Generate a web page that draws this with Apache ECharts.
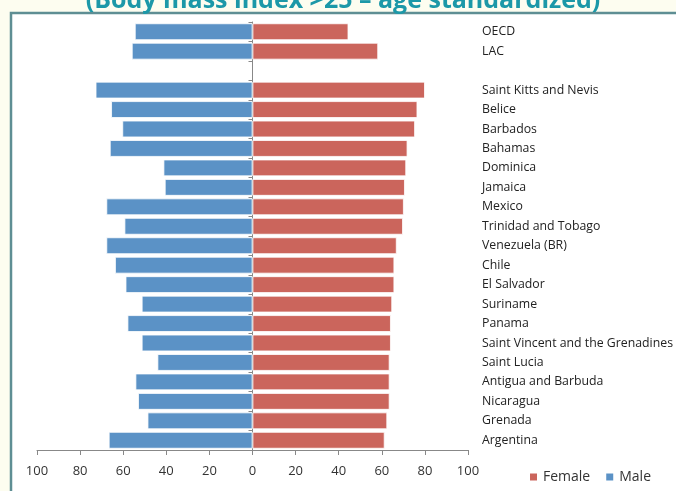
<!DOCTYPE html>
<html><head><meta charset="utf-8">
<script src="https://cdn.jsdelivr.net/npm/echarts@6/dist/echarts.min.js"></script>
<style>html,body{margin:0;padding:0;background:#FDFDF0;}#c{width:676px;height:491px;}</style>
</head><body><div id="c"></div>
<script>
const categories = ["OECD","LAC","","Saint Kitts and Nevis","Belice","Barbados","Bahamas","Dominica","Jamaica","Mexico","Trinidad and Tobago","Venezuela (BR)","Chile","El Salvador","Suriname","Panama","Saint Vincent and the Grenadines","Saint Lucia","Antigua and Barbuda","Nicaragua","Grenada","Argentina"];
const femaleValues = [44.5,58.3,null,80.0,76.5,75.4,71.9,71.3,70.7,70.2,69.8,66.9,65.8,65.8,64.8,64.2,64.2,63.6,63.6,63.6,62.5,61.3];
const maleValues = [54.6,56.0,null,72.8,65.6,60.4,66.2,41.3,40.7,67.8,59.4,67.8,63.8,58.9,51.4,58.0,51.4,44.1,54.3,53.1,48.7,66.7];
const xTicks = [-100,-80,-60,-40,-20,0,20,40,60,80,100];
const titleText = "(Body mass index >25 \u2013 age standardized)";

const chart = echarts.init(document.getElementById('c'));
const FONT = "Open Sans";
chart.setOption({
  backgroundColor: '#FDFDF0',
  animation: false,
  textStyle: {fontFamily: FONT},
  graphic: [
    {type:'rect', z:-10, shape:{x:11, y:13, width:700, height:520}, style:{fill:'#ffffff', stroke:'#5E8E93', lineWidth:2.5}},
    {type:'text', z:10, x:343, y:13, style:{text:titleText, fill:'#1C98A8', font:'bold 25px "Open Sans"', textAlign:'center', textVerticalAlign:'bottom'}}
  ],
  legend: {
    data:['Female','Male'], right: 20, bottom: 2, itemWidth: 9, itemHeight: 9, itemGap: 14,
    icon:'rect', textStyle:{fontSize:14, color:'#333', fontFamily:FONT}
  },
  grid: {left: 37, right: 206, top: 22, bottom: 41, containLabel:false},
  xAxis: {
    type:'value', min:-100, max:100, interval:20,
    axisLine:{show:true, lineStyle:{color:'#888'}},
    axisTick:{show:true, length:5, lineStyle:{color:'#888'}},
    splitLine:{show:false},
    axisLabel:{margin:15, fontSize:13, color:'#333', formatter: v => String(Math.abs(v))}
  },
  yAxis: [
    {type:'category', data:categories, inverse:true,
     axisLine:{show:true, onZero:true, lineStyle:{color:'#888'}},
     axisTick:{show:true, length:4, lineStyle:{color:'#888'}},
     axisLabel:{show:false}},
    {type:'category', data:categories, inverse:true, position:'right',
     axisLine:{show:false}, axisTick:{show:false},
     axisLabel:{show:true, margin:14, fontSize:12.3, color:'#222', align:'left'}}
  ],
  series: [
    {name:'Female', type:'bar', data:femaleValues, stack:'s', barCategoryGap:'14%',
     itemStyle:{color:'#CB655C', borderColor:'#ffffff', borderWidth:0.8}},
    {name:'Male', type:'bar', data:maleValues.map(v => v == null ? null : -v), stack:'s', barCategoryGap:'14%',
     itemStyle:{color:'#5B92C6', borderColor:'#ffffff', borderWidth:0.8}}
  ]
});
</script></body></html>
